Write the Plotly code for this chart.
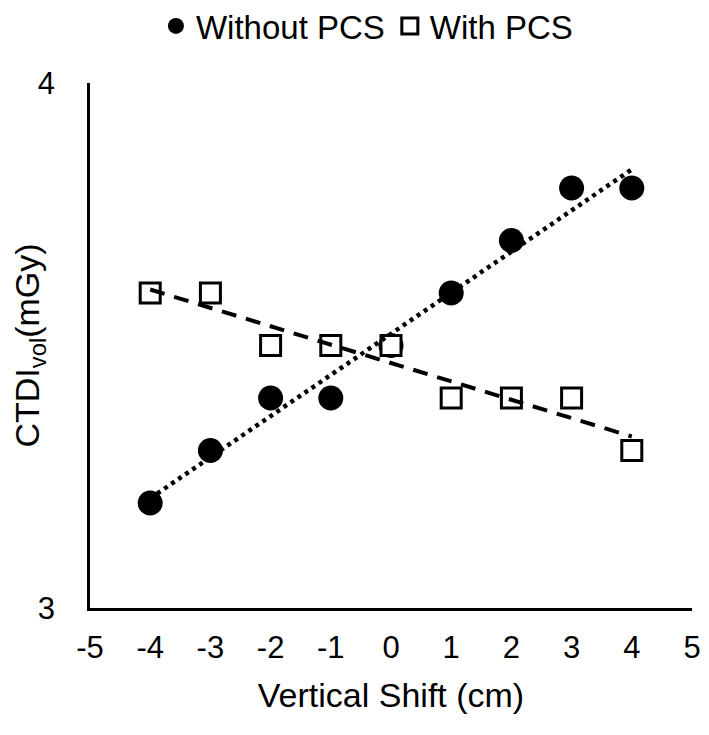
import numpy as np
import plotly.graph_objects as go

shift_cm = [-4, -3, -2, -1, 0, 1, 2, 3, 4]
without_pcs = [3.2, 3.3, 3.4, 3.4, 3.5, 3.6, 3.7, 3.8, 3.8]
with_pcs = [3.6, 3.6, 3.5, 3.5, 3.5, 3.4, 3.4, 3.4, 3.3]
x_ticks = [-5, -4, -3, -2, -1, 0, 1, 2, 3, 4, 5]
y_ticks = [3, 4]

FONT = "Liberation Sans, Arial, sans-serif"

x = np.array(shift_cm, dtype=float)
fit_wo = np.polyfit(x, without_pcs, 1)
fit_w = np.polyfit(x, with_pcs, 1)
xl = np.array([min(shift_cm), max(shift_cm)], dtype=float)

fig = go.Figure()
fig.add_trace(go.Scatter(
    x=shift_cm, y=without_pcs, mode="markers", name="Without PCS",
    marker=dict(symbol="circle", size=25, color="black"),
))
fig.add_trace(go.Scatter(
    x=shift_cm, y=with_pcs, mode="markers", name="With PCS",
    marker=dict(symbol="square", size=20, color="white",
                line=dict(color="black", width=3)),
))
fig.add_trace(go.Scatter(
    x=xl, y=np.polyval(fit_wo, xl), mode="lines", showlegend=False,
    line=dict(color="black", width=4.5, dash="4px,4.5px"), hoverinfo="skip",
))
fig.add_trace(go.Scatter(
    x=xl, y=np.polyval(fit_w, xl), mode="lines", showlegend=False,
    line=dict(color="black", width=4, dash="15px,10px"), hoverinfo="skip",
))

fig.update_layout(
    width=693, height=719,
    margin=dict(l=82, r=9, t=75, b=119, autoexpand=False),
    paper_bgcolor="white", plot_bgcolor="white",
    font=dict(family=FONT, size=31, color="black"),
    showlegend=True,
    legend=dict(
        orientation="h", xref="paper", yref="paper",
        x=0.46, xanchor="center", y=1.162, yanchor="top",
        font=dict(size=33), itemsizing="trace", itemwidth=30,
        bgcolor="rgba(0,0,0,0)", tracegroupgap=0,
    ),
    xaxis=dict(
        range=[-5, 5], tickvals=x_ticks, ticktext=[str(v) for v in x_ticks],
        showgrid=False, zeroline=False, showline=True, linecolor="black",
        linewidth=2.5, ticks="", ticklabelstandoff=10,
        tickfont=dict(size=31),
        title=dict(text="Vertical Shift (cm)", font=dict(size=34), standoff=20),
    ),
    yaxis=dict(
        range=[3, 4], tickvals=y_ticks, ticktext=[str(v) for v in y_ticks],
        showgrid=False, zeroline=False, showline=True, linecolor="black",
        linewidth=2.5, ticks="", ticklabelstandoff=26,
        tickfont=dict(size=31),
        title=dict(text="CTDI<sub>vol</sub>(mGy)", font=dict(size=34), standoff=0),
    ),
)

fig.write_html("out.html")
